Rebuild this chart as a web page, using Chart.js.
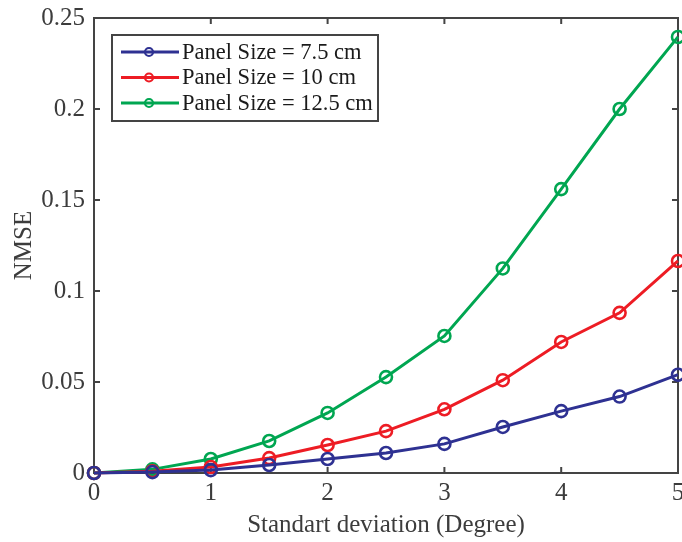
<!DOCTYPE html>
<html>
<head>
<meta charset="utf-8">
<script src="https://cdn.jsdelivr.net/npm/chart.js@4/dist/chart.umd.min.js"></script>
<style>
html,body{margin:0;padding:0;background:#fff;}
#wrap{width:682px;height:542px;position:relative;}
</style>
</head>
<body>
<div id="wrap"><canvas id="c" width="682" height="542"></canvas></div>
<script>
const xValues = [0, 0.5, 1, 1.5, 2, 2.5, 3, 3.5, 4, 4.5, 5];
const series75 = [0, 0.0005, 0.0016, 0.0044, 0.0077, 0.011, 0.016, 0.0253, 0.034, 0.042, 0.054];
const series10 = [0, 0.001, 0.0033, 0.0082, 0.0154, 0.023, 0.035, 0.051, 0.072, 0.088, 0.1165];
const series125 = [0, 0.002, 0.0077, 0.0176, 0.033, 0.0527, 0.0753, 0.1124, 0.156, 0.2, 0.2396];
const seriesLabels = ['Panel Size = 7.5 cm', 'Panel Size = 10 cm', 'Panel Size = 12.5 cm'];
const xTickValues = [0, 1, 2, 3, 4, 5];
const xTickLabels = ['0', '1', '2', '3', '4', '5'];
const yTickValues = [0, 0.05, 0.1, 0.15, 0.2, 0.25];
const yTickLabels = ['0', '0.05', '0.1', '0.15', '0.2', '0.25'];
const xTitle = 'Standart deviation (Degree)';
const yTitle = 'NMSE';

const colors = ['#2e3192', '#ed1c24', '#00a651'];
const FONT = "'Liberation Serif', 'DejaVu Serif', serif";
const AXIS = '#444444';
const TEXT = '#3c3c3c';

function mk(data, i) {
  return {
    label: seriesLabels[i],
    data: xValues.map((x, k) => ({x: x, y: data[k]})),
    borderColor: colors[i],
    backgroundColor: colors[i],
    borderWidth: 3,
    pointRadius: 6,
    pointBorderWidth: 2.6,
    pointBackgroundColor: 'rgba(0,0,0,0)',
    pointBorderColor: colors[i],
    tension: 0,
    clip: false
  };
}

const boxPlugin = {
  id: 'boxPlugin',
  beforeDatasetsDraw(chart) {
    const {ctx, chartArea: a, scales} = chart;
    ctx.save();
    ctx.strokeStyle = AXIS;
    ctx.lineWidth = 2;
    ctx.strokeRect(a.left, a.top, a.right - a.left, a.bottom - a.top);
    const tl = 6;
    ctx.beginPath();
    xTickValues.forEach(v => {
      const px = scales.x.getPixelForValue(v);
      ctx.moveTo(px, a.bottom); ctx.lineTo(px, a.bottom - tl);
      ctx.moveTo(px, a.top); ctx.lineTo(px, a.top + tl);
    });
    yTickValues.forEach(v => {
      const py = scales.y.getPixelForValue(v);
      ctx.moveTo(a.left, py); ctx.lineTo(a.left + tl, py);
      ctx.moveTo(a.right, py); ctx.lineTo(a.right - tl, py);
    });
    ctx.stroke();
    ctx.restore();
  },
  afterDatasetsDraw(chart) {
    const {ctx, chartArea: a} = chart;
    ctx.save();
    const lx = a.left + 18, ly = a.top + 17, lw = 266, lh = 86;
    ctx.fillStyle = '#fff';
    ctx.fillRect(lx, ly, lw, lh);
    ctx.lineWidth = 2;
    ctx.strokeStyle = AXIS;
    ctx.strokeRect(lx, ly, lw, lh);
    chart.data.datasets.forEach((ds, i) => {
      const yy = ly + 17 + i * 25.5;
      ctx.strokeStyle = ds.borderColor;
      ctx.lineWidth = 3;
      ctx.beginPath();
      ctx.moveTo(lx + 9, yy); ctx.lineTo(lx + 67, yy);
      ctx.stroke();
      ctx.lineWidth = 2.2;
      ctx.beginPath();
      ctx.arc(lx + 37, yy, 4, 0, Math.PI * 2);
      ctx.stroke();
      ctx.fillStyle = '#1a1a1a';
      ctx.font = '22.5px ' + FONT;
      ctx.textBaseline = 'middle';
      ctx.textAlign = 'left';
      ctx.fillText(ds.label, lx + 70, yy + 1);
    });
    ctx.restore();
  }
};

new Chart(document.getElementById('c'), {
  type: 'line',
  data: { datasets: [mk(series75, 0), mk(series10, 1), mk(series125, 2)] },
  options: {
    responsive: false,
    animation: false,
    layout: { autoPadding: false, padding: { top: 18, right: 4, left: 0, bottom: 0 } },
    plugins: { legend: { display: false }, tooltip: { enabled: false } },
    scales: {
      x: {
        type: 'linear', min: 0, max: 5,
        afterBuildTicks(s) { s.ticks = xTickValues.map(v => ({value: v})); },
        afterFit(s) { s.height = 69; s.paddingRight = 0; s.paddingLeft = 0; },
        grid: { display: false, drawTicks: false },
        border: { display: false },
        ticks: {
          padding: 5, color: TEXT,
          font: { family: FONT, size: 25 },
          maxRotation: 0, autoSkip: false,
          callback: (v) => xTickLabels[xTickValues.indexOf(v)]
        },
        title: { display: true, text: xTitle, color: TEXT, font: { family: FONT, size: 25 }, padding: { top: 0, bottom: 2 } }
      },
      y: {
        type: 'linear', min: 0, max: 0.25,
        afterBuildTicks(s) { s.ticks = yTickValues.map(v => ({value: v})); },
        afterFit(s) { s.width = 94; s.paddingTop = 0; s.paddingBottom = 0; },
        grid: { display: false, drawTicks: false },
        border: { display: false },
        ticks: {
          padding: 9, color: TEXT,
          font: { family: FONT, size: 25 },
          autoSkip: false,
          callback: (v) => yTickLabels[yTickValues.indexOf(v)]
        },
        title: { display: true, text: yTitle, color: TEXT, font: { family: FONT, size: 25 }, padding: { top: 9, bottom: 0 } }
      }
    }
  },
  plugins: [boxPlugin]
});
</script>
</body>
</html>
